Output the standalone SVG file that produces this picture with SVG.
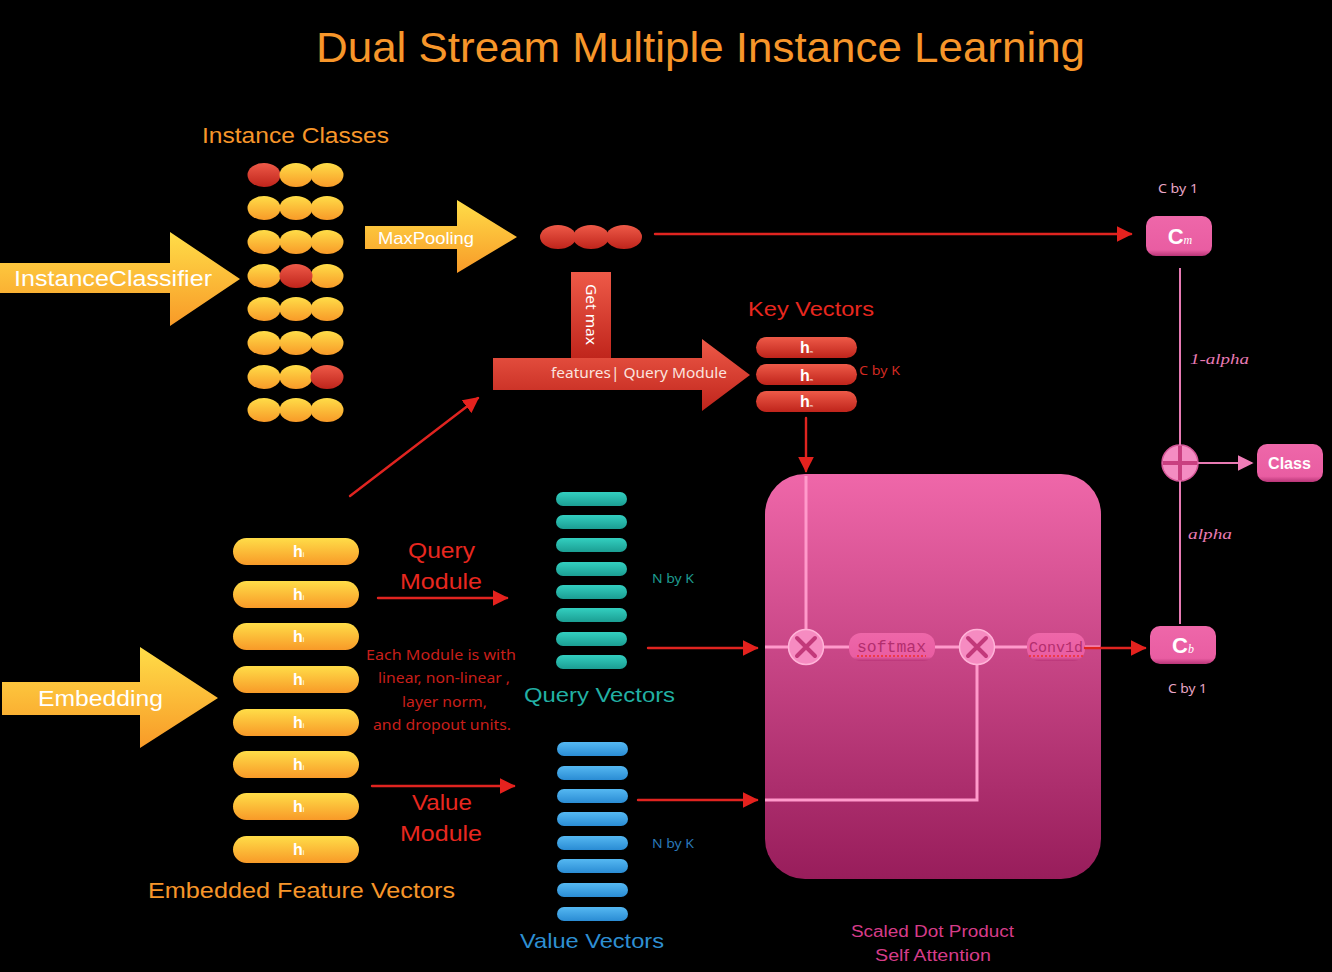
<svg xmlns="http://www.w3.org/2000/svg" width="1332" height="972" viewBox="0 0 1332 972">
<defs>
<linearGradient id="gY" x1="0" y1="0" x2="0" y2="1"><stop offset="0" stop-color="#FFDD48"/><stop offset="1" stop-color="#F89A28"/></linearGradient>
<linearGradient id="gR" x1="0" y1="0" x2="0" y2="1"><stop offset="0" stop-color="#EE5A48"/><stop offset="1" stop-color="#BF241B"/></linearGradient>
<linearGradient id="gT" x1="0" y1="0" x2="0" y2="1"><stop offset="0" stop-color="#33CFC0"/><stop offset="1" stop-color="#1B9E93"/></linearGradient>
<linearGradient id="gB" x1="0" y1="0" x2="0" y2="1"><stop offset="0" stop-color="#55B8F2"/><stop offset="1" stop-color="#2A8CD4"/></linearGradient>
<linearGradient id="gBox" x1="0" y1="0" x2="0" y2="1"><stop offset="0" stop-color="#EF67A9"/><stop offset="1" stop-color="#981D5B"/></linearGradient>
<linearGradient id="gP" x1="0" y1="0" x2="0" y2="1"><stop offset="0" stop-color="#EE67A9"/><stop offset="0.85" stop-color="#E95DA2"/><stop offset="1" stop-color="#B83577"/></linearGradient>
<marker id="mR" viewBox="0 0 10 10" refX="9" refY="5" markerWidth="16" markerHeight="16" markerUnits="userSpaceOnUse" orient="auto"><path d="M0,0 L10,5 L0,10 z" fill="#E5221E"/></marker>
<marker id="mP" viewBox="0 0 10 10" refX="9" refY="5" markerWidth="16" markerHeight="16" markerUnits="userSpaceOnUse" orient="auto"><path d="M0,0 L10,5 L0,10 z" fill="#F07DB8"/></marker>
<style>
text{font-family:"Liberation Sans","Noto Sans",sans-serif}
.th{font-family:"Noto Sans","Liberation Sans",sans-serif}
.or{fill:#F7962A}
.wt{fill:#FFFFFF}
.red{fill:#E8271F}
.rl{stroke:#E02420;stroke-width:2.4;fill:none;marker-end:url(#mR);stroke-linecap:round}
.pl{stroke:#FF9ACB;stroke-width:3;fill:none}
.yl{fill:url(#gY)}
.rd{fill:url(#gR)}
.tl{fill:url(#gT)}
.bl{fill:url(#gB)}
.hb{font-weight:bold;font-size:16px;fill:#fff}
.mono{font-family:"Liberation Mono","DejaVu Sans Mono",monospace}
.ser{font-family:"Liberation Serif",serif}
</style>
</defs>
<rect width="1332" height="972" fill="#000"/>

<text x="316" y="62" font-size="42" class="or" textLength="769" lengthAdjust="spacingAndGlyphs">Dual Stream Multiple Instance Learning</text>

<g id="instance-classes">
<text x="202" y="143" font-size="22" class="or" textLength="187" lengthAdjust="spacingAndGlyphs">Instance Classes</text>
<g>
<ellipse cx="264" cy="175" rx="16.5" ry="12" class="rd"/><ellipse cx="296" cy="175" rx="16.5" ry="12" class="yl"/><ellipse cx="327" cy="175" rx="16.5" ry="12" class="yl"/>
<ellipse cx="264" cy="208" rx="16.5" ry="12" class="yl"/><ellipse cx="296" cy="208" rx="16.5" ry="12" class="yl"/><ellipse cx="327" cy="208" rx="16.5" ry="12" class="yl"/>
<ellipse cx="264" cy="242" rx="16.5" ry="12" class="yl"/><ellipse cx="296" cy="242" rx="16.5" ry="12" class="yl"/><ellipse cx="327" cy="242" rx="16.5" ry="12" class="yl"/>
<ellipse cx="264" cy="276" rx="16.5" ry="12" class="yl"/><ellipse cx="327" cy="276" rx="16.5" ry="12" class="yl"/><ellipse cx="296" cy="276" rx="16.5" ry="12" class="rd"/>
<ellipse cx="264" cy="309" rx="16.5" ry="12" class="yl"/><ellipse cx="296" cy="309" rx="16.5" ry="12" class="yl"/><ellipse cx="327" cy="309" rx="16.5" ry="12" class="yl"/>
<ellipse cx="264" cy="343" rx="16.5" ry="12" class="yl"/><ellipse cx="296" cy="343" rx="16.5" ry="12" class="yl"/><ellipse cx="327" cy="343" rx="16.5" ry="12" class="yl"/>
<ellipse cx="264" cy="377" rx="16.5" ry="12" class="yl"/><ellipse cx="296" cy="377" rx="16.5" ry="12" class="yl"/><ellipse cx="327" cy="377" rx="16.5" ry="12" class="rd"/>
<ellipse cx="264" cy="410" rx="16.5" ry="12" class="yl"/><ellipse cx="296" cy="410" rx="16.5" ry="12" class="yl"/><ellipse cx="327" cy="410" rx="16.5" ry="12" class="yl"/>
</g>
</g>

<g id="instance-classifier">
<path d="M0,263 H170 V232 L240,279 L170,326 V293 H0 z" class="yl"/>
<text x="14" y="286" font-size="22" class="wt" textLength="198" lengthAdjust="spacingAndGlyphs">InstanceClassifier</text>
</g>

<g id="maxpooling">
<path d="M365,226 H457 V200 L517,237 L457,273 V249 H365 z" class="yl"/>
<text x="378" y="244" font-size="17" class="wt" textLength="96" lengthAdjust="spacingAndGlyphs">MaxPooling</text>
</g>

<g id="max-classes">
<ellipse cx="558" cy="237" rx="18" ry="12" class="rd"/>
<ellipse cx="591" cy="237" rx="18" ry="12" class="rd"/>
<ellipse cx="624" cy="237" rx="18" ry="12" class="rd"/>
</g>

<g id="get-max">
<rect x="571" y="272" width="40" height="88" class="rd"/>
<text transform="translate(586,284) rotate(90)" font-size="15" class="wt th" textLength="61" lengthAdjust="spacingAndGlyphs">Get max</text>
</g>

<g id="features-query">
<path d="M493,358 H702 V339 L750,375 L702,411 V390 H493 z" class="rd"/>
<text x="551" y="378" font-size="15" fill="#FBE3DF" class="th" textLength="176" lengthAdjust="spacingAndGlyphs">features| Query Module</text>
</g>

<g id="key-vectors">
<text x="748" y="316" font-size="21" class="red" textLength="126" lengthAdjust="spacingAndGlyphs">Key Vectors</text>
<rect x="756" y="337" width="101" height="21" rx="10.5" class="rd"/>
<rect x="756" y="364" width="101" height="21" rx="10.5" class="rd"/>
<rect x="756" y="391" width="101" height="21" rx="10.5" class="rd"/>
<text x="800" y="353" class="hb">h<tspan font-size="4" font-weight="normal">m</tspan></text>
<text x="800" y="381" class="hb">h<tspan font-size="4" font-weight="normal">m</tspan></text>
<text x="800" y="407" class="hb">h<tspan font-size="4" font-weight="normal">m</tspan></text>
<text x="859" y="375" font-size="12" fill="#D02A22" class="th" textLength="41" lengthAdjust="spacingAndGlyphs">C by K</text>
</g>

<g id="embedding">
<path d="M2,682 H140 V647 L218,698 L140,748 V715 H2 z" class="yl"/>
<text x="38" y="706" font-size="22" class="wt" textLength="125" lengthAdjust="spacingAndGlyphs">Embedding</text>
</g>

<g id="embedded-features">
<rect x="233" y="538" width="126" height="27" rx="13.5" class="yl"/>
<rect x="233" y="581" width="126" height="27" rx="13.5" class="yl"/>
<rect x="233" y="623" width="126" height="27" rx="13.5" class="yl"/>
<rect x="233" y="666" width="126" height="27" rx="13.5" class="yl"/>
<rect x="233" y="709" width="126" height="27" rx="13.5" class="yl"/>
<rect x="233" y="751" width="126" height="27" rx="13.5" class="yl"/>
<rect x="233" y="793" width="126" height="27" rx="13.5" class="yl"/>
<rect x="233" y="836" width="126" height="27" rx="13.5" class="yl"/>
<text x="293" y="557" class="hb">h<tspan font-size="7" font-weight="normal">i</tspan></text>
<text x="293" y="600" class="hb">h<tspan font-size="7" font-weight="normal">i</tspan></text>
<text x="293" y="642" class="hb">h<tspan font-size="7" font-weight="normal">i</tspan></text>
<text x="293" y="685" class="hb">h<tspan font-size="7" font-weight="normal">i</tspan></text>
<text x="293" y="728" class="hb">h<tspan font-size="7" font-weight="normal">i</tspan></text>
<text x="293" y="770" class="hb">h<tspan font-size="7" font-weight="normal">i</tspan></text>
<text x="293" y="812" class="hb">h<tspan font-size="7" font-weight="normal">i</tspan></text>
<text x="293" y="855" class="hb">h<tspan font-size="7" font-weight="normal">i</tspan></text>
<text x="148" y="898" font-size="22" class="or" textLength="307" lengthAdjust="spacingAndGlyphs">Embedded Feature Vectors</text>
</g>

<g id="query-module">
<text x="408" y="558" font-size="22" class="red" textLength="67" lengthAdjust="spacingAndGlyphs">Query</text>
<text x="400" y="589" font-size="22" class="red" textLength="82" lengthAdjust="spacingAndGlyphs">Module</text>
</g>

<g id="module-note" font-size="15" fill="#C91F1A">
<text x="366" y="660" class="th" textLength="150" lengthAdjust="spacingAndGlyphs">Each Module is with</text>
<text x="378" y="683" class="th" textLength="132" lengthAdjust="spacingAndGlyphs">linear, non-linear ,</text>
<text x="402" y="707" class="th" textLength="85" lengthAdjust="spacingAndGlyphs">layer norm,</text>
<text x="373" y="730" class="th" textLength="138" lengthAdjust="spacingAndGlyphs">and dropout units.</text>
</g>

<g id="value-module">
<text x="412" y="810" font-size="22" class="red" textLength="60" lengthAdjust="spacingAndGlyphs">Value</text>
<text x="400" y="841" font-size="22" class="red" textLength="82" lengthAdjust="spacingAndGlyphs">Module</text>
</g>

<g id="query-vectors">
<rect x="556" y="492" width="71" height="14" rx="7" class="tl"/>
<rect x="556" y="515" width="71" height="14" rx="7" class="tl"/>
<rect x="556" y="538" width="71" height="14" rx="7" class="tl"/>
<rect x="556" y="562" width="71" height="14" rx="7" class="tl"/>
<rect x="556" y="585" width="71" height="14" rx="7" class="tl"/>
<rect x="556" y="608" width="71" height="14" rx="7" class="tl"/>
<rect x="556" y="632" width="71" height="14" rx="7" class="tl"/>
<rect x="556" y="655" width="71" height="14" rx="7" class="tl"/>
<text x="652" y="583" font-size="12" fill="#1E9C90" class="th" textLength="42" lengthAdjust="spacingAndGlyphs">N by K</text>
<text x="524" y="702" font-size="21" fill="#22B0A4" textLength="151" lengthAdjust="spacingAndGlyphs">Query Vectors</text>
</g>

<g id="value-vectors">
<rect x="557" y="742" width="71" height="14" rx="7" class="bl"/>
<rect x="557" y="766" width="71" height="14" rx="7" class="bl"/>
<rect x="557" y="789" width="71" height="14" rx="7" class="bl"/>
<rect x="557" y="812" width="71" height="14" rx="7" class="bl"/>
<rect x="557" y="836" width="71" height="14" rx="7" class="bl"/>
<rect x="557" y="859" width="71" height="14" rx="7" class="bl"/>
<rect x="557" y="883" width="71" height="14" rx="7" class="bl"/>
<rect x="557" y="907" width="71" height="14" rx="7" class="bl"/>
<text x="652" y="848" font-size="12" fill="#2A78B8" class="th" textLength="42" lengthAdjust="spacingAndGlyphs">N by K</text>
<text x="520" y="948" font-size="21" fill="#2E8FD2" textLength="144" lengthAdjust="spacingAndGlyphs">Value Vectors</text>
</g>

<g id="attention">
<rect x="765" y="474" width="336" height="405" rx="40" fill="url(#gBox)"/>
<path d="M806,476 V629" class="pl"/>
<path d="M765,647 H788 M824,647 H959 M995,647 H1100" class="pl"/>
<path d="M977,665 V800 H765" class="pl"/>
<g id="mult1">
<circle cx="806" cy="647" r="17.5" fill="#F68BC1" stroke="#FFB3D8" stroke-width="1.5"/>
<path d="M797,638 L815,656 M815,638 L797,656" stroke="#C2397A" stroke-width="4" stroke-linecap="round"/>
</g>
<g id="mult2">
<circle cx="977" cy="647" r="17.5" fill="#F68BC1" stroke="#FFB3D8" stroke-width="1.5"/>
<path d="M968,638 L986,656 M986,638 L968,656" stroke="#C2397A" stroke-width="4" stroke-linecap="round"/>
</g>
<g id="softmax">
<rect x="849" y="633" width="86" height="28" rx="12" fill="url(#gP)"/>
<text x="857" y="652" font-size="16" fill="#B32E6E" class="mono" textLength="69" lengthAdjust="spacingAndGlyphs">softmax</text>
<path d="M857,656 H926" stroke="#F0302A" stroke-width="1.6" stroke-dasharray="2,2"/>
</g>
<g id="conv1d">
<rect x="1027" y="633" width="58" height="28" rx="12" fill="url(#gP)"/>
<text x="1029" y="652" font-size="15" fill="#B32E6E" class="mono" textLength="54" lengthAdjust="spacingAndGlyphs">Conv1d</text>
<path d="M1029,656 H1083" stroke="#F0302A" stroke-width="1.6" stroke-dasharray="2,2"/>
</g>
<text x="851" y="937" font-size="16" fill="#D63C89" textLength="163" lengthAdjust="spacingAndGlyphs">Scaled Dot Product</text>
<text x="875" y="961" font-size="16" fill="#D63C89" textLength="116" lengthAdjust="spacingAndGlyphs">Self Attention</text>
</g>

<g id="cm">
<text x="1158" y="193" font-size="13" fill="#E8A6C6" class="th" textLength="40" lengthAdjust="spacingAndGlyphs">C by 1</text>
<rect x="1146" y="216" width="66" height="40" rx="10" fill="url(#gP)"/>
<text x="1180" y="244" text-anchor="middle" font-size="22" font-weight="bold" fill="#fff">C<tspan font-size="12" font-style="italic" font-weight="normal" class="ser">m</tspan></text>
</g>

<g id="cb">
<rect x="1150" y="626" width="66" height="38" rx="10" fill="url(#gP)"/>
<text x="1183" y="653" text-anchor="middle" font-size="22" font-weight="bold" fill="#fff">C<tspan font-size="12" font-style="italic" font-weight="normal" class="ser">b</tspan></text>
<text x="1168" y="693" font-size="13" fill="#E8A6C6" class="th" textLength="39" lengthAdjust="spacingAndGlyphs">C by 1</text>
</g>

<g id="plus">
<circle cx="1180" cy="463" r="18" fill="#F48CC2" stroke="#D45596" stroke-width="1.5"/>
<path d="M1180,446 V480 M1163,463 H1197" stroke="#C93F80" stroke-width="4"/>
</g>

<g id="class">
<rect x="1257" y="444" width="66" height="38" rx="10" fill="url(#gP)"/>
<text x="1268" y="469" font-size="17" font-weight="bold" fill="#fff" textLength="43" lengthAdjust="spacingAndGlyphs">Class</text>
</g>

<g id="connectors">
<path d="M655,234 H1131" class="rl"/>
<path d="M350,496 L478,398" class="rl"/>
<path d="M806,418 V471" class="rl"/>
<path d="M378,598 H507" class="rl"/>
<path d="M372,786 H514" class="rl"/>
<path d="M648,648 H757" class="rl"/>
<path d="M638,800 H757" class="rl"/>
<path d="M1085,648 H1145" class="rl"/>
<path d="M1180,268 V445 M1180,481 V624" stroke="#E77AB3" stroke-width="2" fill="none"/>
<path d="M1198,463 H1252" stroke="#E77AB3" stroke-width="2" fill="none" marker-end="url(#mP)"/>
<text x="1190" y="364" font-size="15" font-style="italic" fill="#E77AB3" class="ser" textLength="59" lengthAdjust="spacingAndGlyphs">1-alpha</text>
<text x="1188" y="539" font-size="15" font-style="italic" fill="#E77AB3" class="ser" textLength="44" lengthAdjust="spacingAndGlyphs">alpha</text>
</g>
</svg>
